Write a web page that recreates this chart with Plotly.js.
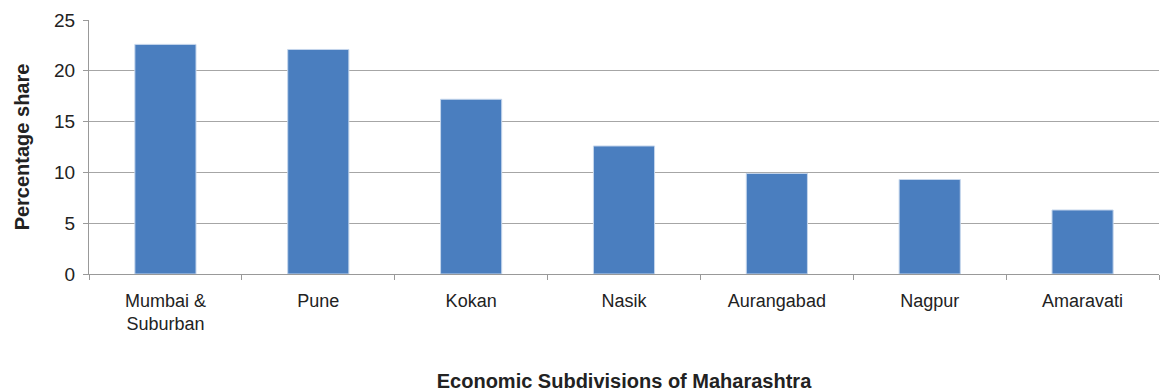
<!DOCTYPE html>
<html>
<head>
<meta charset="utf-8">
<script src="https://cdn.plot.ly/plotly-3.0.1.min.js"></script>
<style>html,body{margin:0;padding:0;background:#fff;}#chart{width:1161px;height:392px;}</style>
</head>
<body>
<div id="chart"></div>
<script>
const categories = ["Mumbai &<br>Suburban", "Pune", "Kokan", "Nasik", "Aurangabad", "Nagpur", "Amaravati"];
const shares = [22.6, 22.1, 17.2, 12.6, 9.9, 9.3, 6.3];
const yTicks = [0, 5, 10, 15, 20, 25];

const trace = {
  type: "bar",
  x: categories,
  y: shares,
  marker: {color: "#4a7ebf", line: {color: "#c5d6ec", width: 1}},
  hoverinfo: "skip"
};

const layout = {
  width: 1161, height: 392,
  margin: {l: 89, r: 2, t: 20, b: 118},
  paper_bgcolor: "#fff", plot_bgcolor: "#fff",
  bargap: 0.6,
  showlegend: false,
  font: {family: "Liberation Sans, Arial, sans-serif", color: "#222"},
  xaxis: {
    type: "category",
    tickson: "boundaries",
    ticks: "outside", ticklen: 5, tickcolor: "#999",
    showline: true, linecolor: "#999", linewidth: 1,
    showgrid: false,
    tickfont: {size: 18, color: "#222"},
    ticklabelstandoff: 10,
    title: {text: "<b>Economic Subdivisions of Maharashtra</b>", font: {size: 20, color: "#222"}, standoff: 41}
  },
  yaxis: {
    range: [0, 25],
    tickvals: yTicks,
    ticks: "outside", ticklen: 5, tickcolor: "#999",
    showline: true, linecolor: "#999", linewidth: 1,
    showgrid: true, gridcolor: "#a6a6a6", gridwidth: 1,
    zeroline: false,
    tickfont: {size: 19, color: "#222"},
    ticklabelstandoff: 4,
    title: {text: "<b>Percentage share</b>", font: {size: 20, color: "#222"}, standoff: 19}
  }
};

Plotly.newPlot("chart", [trace], layout, {displayModeBar: false, staticPlot: true});
</script>
</body>
</html>
